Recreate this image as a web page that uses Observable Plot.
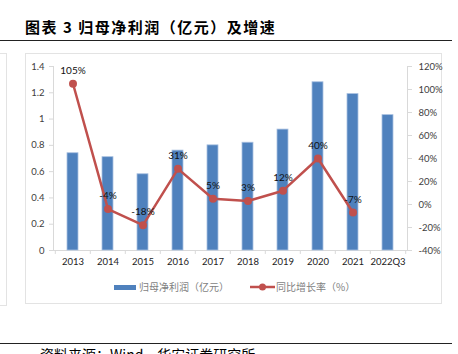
<!DOCTYPE html>
<html><head><meta charset="utf-8">
<script src="https://cdn.jsdelivr.net/npm/d3@7"></script>
<script src="https://cdn.jsdelivr.net/npm/@observablehq/plot@0.6"></script>
<style>
body{margin:0;background:#fff;}
#wrap{position:relative;width:458px;height:354px;overflow:hidden;font-family:Lato,"Noto Sans CJK SC",sans-serif;}
#title{position:absolute;left:25px;top:19px;font-size:15px;line-height:15px;letter-spacing:1.5px;font-weight:bold;color:#000;font-family:"Noto Sans CJK SC",sans-serif;white-space:nowrap;}
.hline{position:absolute;left:0;width:452px;height:0;border-top:1px solid #222;}
.box{position:absolute;border:1px solid #e3e3e3;box-sizing:border-box;}
#chart{position:absolute;left:0;top:0;}
.leg{position:absolute;font-size:10px;line-height:12px;color:#7f7f7f;font-family:"Noto Sans CJK SC",sans-serif;white-space:nowrap;}
#caption{position:absolute;left:40px;top:347px;font-size:14px;line-height:14px;color:#000;font-family:"Noto Sans CJK SC",sans-serif;white-space:nowrap;}
</style></head><body>
<div id="wrap">
  <div id="title">图表 3 归母净利润（亿元）及增速</div>
  <div class="hline" style="top:40px"></div>
  <div class="box" style="left:25px;top:53px;width:417px;height:251px"></div>
  <div class="box" style="left:-10px;top:53px;width:17px;height:253px"></div>
  <div id="chart"></div>
  <svg style="position:absolute;left:114px;top:284px" width="24" height="8"><rect x="0" y="1" width="22" height="5" fill="#4F81BD"/></svg>
  <div class="leg" style="left:139px;top:281px">归母净利润（亿元）</div>
  <svg style="position:absolute;left:250px;top:282px" width="27" height="10"><line x1="0" y1="5" x2="25" y2="5" stroke="#C0504D" stroke-width="2.5"/><circle cx="12.5" cy="5" r="3.5" fill="#C0504D"/></svg>
  <div class="leg" style="left:276px;top:281px">同比增长率（%）</div>
  <div class="hline" style="top:343px"></div>
  <div id="caption">资料来源：Wind，华安证券研究所</div>
</div>
<script>
const categories = ["2013","2014","2015","2016","2017","2018","2019","2020","2021","2022Q3"];
const profit = [0.74, 0.71, 0.58, 0.76, 0.80, 0.82, 0.92, 1.28, 1.19, 1.03];
const growthCategories = ["2013","2014","2015","2016","2017","2018","2019","2020","2021"];
const growth = [105, -4, -18, 31, 5, 3, 12, 40, -7];
const leftTicks = [0, 0.2, 0.4, 0.6, 0.8, 1.0, 1.2, 1.4];
const rightTicks = [-40, -20, 0, 20, 40, 60, 80, 100, 120];

const gMin = -40, gMax = 120, yMax = 1.4;
const gy = g => (g - gMin) / (gMax - gMin) * yMax;
const yg = v => Math.round(v / yMax * (gMax - gMin) + gMin);

const barData = categories.map((c, i) => ({c, v: profit[i]}));
const lineData = growthCategories.map((c, i) => ({c, g: growth[i], y: gy(growth[i])}));

const W = 458, H = 354, mL = 53, mR = 51;
const step = (W - mL - mR) / categories.length;
const axisColor = "#d9d9d9";

const chart = Plot.plot({
  width: W, height: H,
  marginLeft: mL, marginRight: mR, marginTop: 66, marginBottom: 104,
  style: {background: "transparent", fontFamily: "Lato, sans-serif", fontSize: "9.5px", color: "#404040"},
  x: {type: "band", domain: categories, paddingInner: 0.69, paddingOuter: 0.345, align: 0.5},
  y: {domain: [0, yMax]},
  marks: [
    Plot.ruleY([0], {stroke: axisColor}),
    Plot.frame({anchor: "left", stroke: axisColor}),
    Plot.frame({anchor: "right", stroke: axisColor}),
    Plot.axisY({anchor: "left", ticks: leftTicks, tickFormat: d => String(+d.toFixed(1)), tickSize: 4, tickPadding: 5, stroke: axisColor, fill: "#404040", label: null}),
    Plot.axisY({anchor: "right", ticks: rightTicks.map(gy), tickFormat: v => yg(v) + "%", tickSize: 4, tickPadding: 7, stroke: axisColor, fill: "#404040", label: null}),
    Plot.axisX({tickSize: 0, tickPadding: 8, fill: "#222", label: null}),
    Plot.ruleX(categories, {x: d => d, dx: -step / 2, y1: 0, y2: -0.03, stroke: axisColor}),
    Plot.ruleX([categories[categories.length - 1]], {x: d => d, dx: step / 2, y1: 0, y2: -0.03, stroke: axisColor}),
    Plot.barY(barData, {x: "c", y: "v", fill: "#4F81BD", stroke: "#a9c0e0", strokeWidth: 0.8}),
    Plot.line(lineData, {x: "c", y: "y", stroke: "#C0504D", strokeWidth: 2.5}),
    Plot.dot(lineData, {x: "c", y: "y", r: 4, fill: "#C0504D"}),
    Plot.text(lineData, {x: "c", y: "y", text: d => d.g + "%", dy: -13, fill: "#111", fontSize: 10})
  ]
});
document.getElementById("chart").appendChild(chart);
</script>
</body></html>
